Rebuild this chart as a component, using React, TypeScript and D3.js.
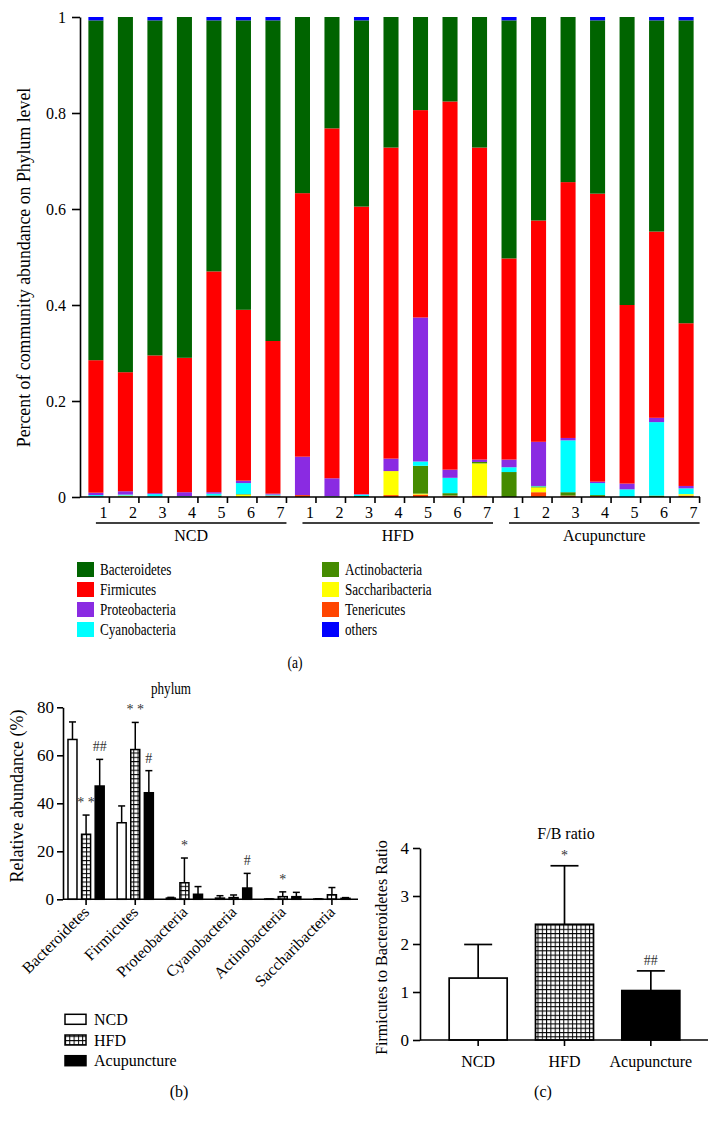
import React, { useEffect, useRef } from "react";
import * as d3 from "d3";

const FONT = "'Liberation Serif', 'Times New Roman', serif";

// ---- panel (a): phylum composition per sample ----
const groups = ["NCD", "HFD", "Acupuncture"];
const sampleLabels = ["1", "2", "3", "4", "5", "6", "7"];
const phyla = ["Bacteroidetes", "Firmicutes", "Proteobacteria", "Cyanobacteria", "Actinobacteria", "Saccharibacteria", "Tenericutes", "others"];
const phylaColors = ["#006400", "#ff0000", "#8a2be2", "#00ffff", "#458b00", "#ffff00", "#ff4500", "#0000ff"];
const stackOrder = ["Tenericutes", "Saccharibacteria", "Actinobacteria", "Cyanobacteria", "Proteobacteria", "Firmicutes", "Bacteroidetes", "others"];

const bacteroidetes = [0.708, 0.74, 0.698, 0.71, 0.523, 0.603, 0.668, 0.367, 0.232, 0.388, 0.272, 0.194, 0.176, 0.272, 0.496, 0.424, 0.344, 0.361, 0.6, 0.44, 0.631];
const firmicutes = [0.276, 0.248, 0.287, 0.28, 0.46, 0.356, 0.318, 0.549, 0.729, 0.599, 0.648, 0.432, 0.767, 0.65, 0.419, 0.461, 0.533, 0.6, 0.372, 0.388, 0.339];
const proteobacteria = [0.005, 0.007, 0.002, 0.008, 0.003, 0.005, 0.002, 0.08, 0.037, 0.001, 0.026, 0.3, 0.017, 0.005, 0.016, 0.092, 0.005, 0.003, 0.012, 0.009, 0.005];
const cyanobacteria = [0.003, 0.002, 0.005, 0.001, 0.004, 0.023, 0.002, 0, 0.001, 0.003, 0, 0.009, 0.032, 0, 0.01, 0.001, 0.108, 0.025, 0.016, 0.153, 0.012];
const actinobacteria = [0.001, 0, 0.001, 0.001, 0.003, 0.001, 0, 0, 0, 0.002, 0, 0.058, 0.005, 0.003, 0.052, 0.002, 0.007, 0.002, 0, 0.003, 0];
const saccharibacteria = [0, 0.003, 0, 0, 0, 0.005, 0, 0, 0, 0, 0.05, 0.002, 0, 0.067, 0, 0.01, 0, 0, 0, 0, 0.003];
const tenericutes = [0, 0, 0, 0, 0, 0, 0.003, 0.004, 0.001, 0, 0.004, 0.005, 0.003, 0.003, 0, 0.01, 0.003, 0.002, 0, 0, 0.003];
const others = [0.007, 0, 0.007, 0, 0.007, 0.007, 0.007, 0, 0, 0.007, 0, 0, 0, 0, 0.007, 0, 0, 0.007, 0, 0.007, 0.007];
const phylaValues = [bacteroidetes, firmicutes, proteobacteria, cyanobacteria, actinobacteria, saccharibacteria, tenericutes, others];

// ---- panel (b): relative abundance (%) ----
const bCategories = ["Bacteroidetes", "Firmicutes", "Proteobacteria", "Cyanobacteria", "Actinobacteria", "Saccharibacteria"];
const ncdMean = [66.6, 31.9, 0.5, 0.5, 0.1, 0.1];
const ncdSd = [7.3, 7.0, 0.3, 1.0, 0, 0.1];
const hfdMean = [27.1, 62.4, 6.9, 0.7, 1.1, 1.9];
const hfdSd = [8.0, 11.3, 10.3, 1.1, 2.0, 3.0];
const acuMean = [47.2, 44.4, 2.1, 4.7, 1.1, 0.4];
const acuSd = [11.1, 9.2, 3.2, 6.1, 1.8, 0.3];
const bMarks = [
    { cat: 0, grp: 1, text: "* *" }, { cat: 0, grp: 2, text: "##" },
    { cat: 1, grp: 1, text: "* *" }, { cat: 1, grp: 2, text: "#" },
    { cat: 2, grp: 1, text: "*" }, { cat: 3, grp: 2, text: "#" }, { cat: 4, grp: 1, text: "*" },
];

// ---- panel (c): F/B ratio ----
const fbMean = [1.29, 2.41, 1.03];
const fbSd = [0.70, 1.22, 0.41];
const fbMarks = ["", "*", "##"];

const fills = ["white", "url(#grid)", "black"];

export default function App() {
    const ref = useRef<SVGSVGElement>(null);

    useEffect(() => {
        const svg = d3.select(ref.current);
        svg.selectAll("*").remove();
        svg.style("font-family", FONT);

        const pat = svg.append("defs").append("pattern").attr("id", "grid")
            .attr("patternUnits", "userSpaceOnUse").attr("width", 4.3).attr("height", 4.3);
        pat.append("rect").attr("width", 4.3).attr("height", 4.3).attr("fill", "white");
        pat.append("path").attr("d", "M0,0.5H4.3M0.5,0V4.3").attr("stroke", "black").attr("stroke-width", 1);

        const styleAxis = (g: any, size = 16) => {
            g.selectAll("path,line").attr("stroke", "black").attr("stroke-width", 1.6);
            g.selectAll("text").attr("font-family", FONT).attr("font-size", size).attr("fill", "black");
        };

        // ===== (a) =====
        const rows = d3.range(21).map(i => {
            const r: any = { idx: i };
            phyla.forEach((p, k) => r[p] = phylaValues[k][i]);
            return r;
        });
        const color = d3.scaleOrdinal<string, string>().domain(phyla).range(phylaColors);
        const xa = d3.scaleBand<number>().domain(d3.range(21)).range([81, 701]).paddingInner(0.49).paddingOuter(0.25);
        const ya = d3.scaleLinear().domain([0, 1]).range([497, 17]);
        const cx = (i: number) => (xa(i) as number) + xa.bandwidth() / 2;

        const stacked = d3.stack<any>().keys(stackOrder)(rows);
        svg.append("g").selectAll("g").data(stacked).join("g")
            .attr("fill", d => color(d.key))
            .selectAll("rect").data(d => d).join("rect")
            .attr("x", (d: any) => xa(d.data.idx) as number)
            .attr("y", d => ya(d[1]))
            .attr("width", xa.bandwidth())
            .attr("height", d => ya(d[0]) - ya(d[1]));

        const yAxisA = svg.append("g").attr("transform", "translate(80,0)")
            .call(d3.axisLeft(ya).tickValues([0, 0.2, 0.4, 0.6, 0.8, 1]).tickSize(8).tickPadding(6).tickSizeOuter(0)
                .tickFormat(d => String(+(+d).toFixed(1))));
        styleAxis(yAxisA);

        svg.append("line").attr("x1", 80).attr("x2", 700).attr("y1", 497).attr("y2", 497)
            .attr("stroke", "black").attr("stroke-width", 1.6);
        svg.append("g").selectAll("line").data(d3.range(21)).join("line")
            .attr("x1", i => cx(i) + 13.5).attr("x2", i => cx(i) + 13.5)
            .attr("y1", 497).attr("y2", 503).attr("stroke", "black").attr("stroke-width", 1.6);
        svg.append("g").selectAll("text").data(d3.range(21)).join("text")
            .attr("x", i => cx(i) + 7.5).attr("y", 518).attr("text-anchor", "middle")
            .attr("font-size", 16).text(i => sampleLabels[i % 7]);

        groups.forEach((g, k) => {
            const x1 = cx(k * 7), x2 = cx(k * 7 + 6) + 13.5;
            svg.append("line").attr("x1", x1).attr("x2", x2).attr("y1", 523).attr("y2", 523)
                .attr("stroke", "black").attr("stroke-width", 1.6);
            svg.append("text").attr("x", (x1 + x2) / 2).attr("y", 541).attr("text-anchor", "middle")
                .attr("font-size", 16).text(g);
        });

        svg.append("text").attr("transform", "translate(30,267.5) rotate(-90)").attr("text-anchor", "middle")
            .attr("font-size", 17.8).text("Percent of community abundance on Phylum level");

        // legend (a) - text is set slightly condensed like the source figure
        const lg = svg.append("g").selectAll("g").data(phyla).join("g")
            .attr("transform", (d, i) => `translate(${i < 4 ? 77 : 322},${569.5 + (i % 4) * 20})`);
        lg.append("rect").attr("x", 0).attr("y", -7.5).attr("width", 17).attr("height", 15).attr("fill", d => color(d));
        lg.append("text").attr("transform", "translate(23,5.5) scale(0.82,1)").attr("font-size", 16).text(d => d);

        svg.append("text").attr("transform", "translate(295,668) scale(0.85,1)").attr("text-anchor", "middle")
            .attr("font-size", 16).text("(a)");

        // ===== (b) =====
        svg.append("text").attr("transform", "translate(171,694) scale(0.82,1)").attr("text-anchor", "middle")
            .attr("font-size", 16).text("phylum");
        const xb = d3.scaleBand<string>().domain(bCategories).range([61.5, 356.5]);
        const yb = d3.scaleLinear().domain([0, 80]).range([899.3, 707.3]);
        const off = d3.scaleOrdinal<number, number>().domain([0, 1, 2]).range([-13.6, 0, 13.6]);
        const bcx = (c: number) => (xb(bCategories[c]) as number) + xb.bandwidth() / 2;
        const means = [ncdMean, hfdMean, acuMean];
        const sds = [ncdSd, hfdSd, acuSd];
        const bData = d3.range(6).flatMap(c => [0, 1, 2].map(g => ({ c, g, m: means[g][c], s: sds[g][c] })));

        const eb = svg.append("g").selectAll("g").data(bData).join("g");
        eb.append("line").attr("x1", d => bcx(d.c) + off(d.g)).attr("x2", d => bcx(d.c) + off(d.g))
            .attr("y1", d => yb(d.m)).attr("y2", d => yb(d.m + d.s)).attr("stroke", "black").attr("stroke-width", 1.5);
        eb.append("line").attr("x1", d => bcx(d.c) + off(d.g) - 3.5).attr("x2", d => bcx(d.c) + off(d.g) + 3.5)
            .attr("y1", d => yb(d.m + d.s)).attr("y2", d => yb(d.m + d.s)).attr("stroke", "black").attr("stroke-width", 1.5);
        eb.append("rect").attr("x", d => bcx(d.c) + off(d.g) - 4.5).attr("width", 9)
            .attr("y", d => yb(d.m)).attr("height", d => yb(0) - yb(d.m))
            .attr("fill", d => fills[d.g]).attr("stroke", "black").attr("stroke-width", 1.5);

        const yAxisB = svg.append("g").attr("transform", "translate(63,0)")
            .call(d3.axisLeft(yb).tickValues([0, 20, 40, 60, 80]).tickSize(6).tickPadding(3).tickSizeOuter(0)
                .tickFormat(d3.format("d")));
        styleAxis(yAxisB, 17);
        svg.append("line").attr("x1", 63).attr("x2", 358).attr("y1", 899.3).attr("y2", 899.3)
            .attr("stroke", "black").attr("stroke-width", 1.6);
        svg.append("g").selectAll("line").data(d3.range(6)).join("line")
            .attr("x1", c => bcx(c)).attr("x2", c => bcx(c)).attr("y1", 899.3).attr("y2", 905)
            .attr("stroke", "black").attr("stroke-width", 1.6);
        svg.append("g").selectAll("text").data(bCategories).join("text")
            .attr("transform", (d, c) => `translate(${bcx(c) + 4},${913}) rotate(-45)`)
            .attr("text-anchor", "end").attr("font-size", 16).text(d => d);

        svg.append("g").selectAll("text").data(bMarks).join("text")
            .attr("x", d => bcx(d.cat) + off(d.grp))
            .attr("y", d => yb(means[d.grp][d.cat] + sds[d.grp][d.cat]) - 8)
            .attr("text-anchor", "middle").attr("font-size", 14).attr("fill", "#333").text(d => d.text);

        svg.append("text").attr("transform", "translate(22.5,796) rotate(-90)").attr("text-anchor", "middle")
            .attr("font-size", 18).text("Relative abundance (%)");

        const lb = svg.append("g").selectAll("g").data(groups).join("g")
            .attr("transform", (d, i) => `translate(65,${1019.3 + i * 20.7})`);
        lb.append("rect").attr("x", 0).attr("y", -5).attr("width", 21).attr("height", 10)
            .attr("fill", (d, i) => fills[i]).attr("stroke", "black").attr("stroke-width", 1.5);
        lb.append("text").attr("x", 29).attr("y", 5.5).attr("font-size", 16).text(d => d);
        svg.append("text").attr("x", 179).attr("y", 1097).attr("text-anchor", "middle").attr("font-size", 16).text("(b)");

        // ===== (c) =====
        const xc = d3.scaleBand<string>().domain(groups).range([435, 694]);
        const yc = d3.scaleLinear().domain([0, 4]).range([1040, 848]);
        const ccx = (i: number) => (xc(groups[i]) as number) + xc.bandwidth() / 2;
        const cData = groups.map((g, i) => ({ g, i, m: fbMean[i], s: fbSd[i] }));

        const cb = svg.append("g").selectAll("g").data(cData).join("g");
        cb.append("line").attr("x1", d => ccx(d.i)).attr("x2", d => ccx(d.i))
            .attr("y1", d => yc(d.m)).attr("y2", d => yc(d.m + d.s)).attr("stroke", "black").attr("stroke-width", 1.7);
        cb.append("line").attr("x1", d => ccx(d.i) - 14).attr("x2", d => ccx(d.i) + 14)
            .attr("y1", d => yc(d.m + d.s)).attr("y2", d => yc(d.m + d.s)).attr("stroke", "black").attr("stroke-width", 1.7);
        cb.append("rect").attr("x", d => ccx(d.i) - 29).attr("width", 58)
            .attr("y", d => yc(d.m)).attr("height", d => yc(0) - yc(d.m))
            .attr("fill", d => fills[d.i]).attr("stroke", "black").attr("stroke-width", 1.7);
        cb.append("text").attr("x", d => ccx(d.i)).attr("y", d => yc(d.m + d.s) - 6)
            .attr("text-anchor", "middle").attr("font-size", 14).attr("fill", "#333").text(d => fbMarks[d.i]);

        const yAxisC = svg.append("g").attr("transform", "translate(420,0)")
            .call(d3.axisLeft(yc).tickValues([0, 1, 2, 3, 4]).tickSize(7).tickPadding(4).tickSizeOuter(0)
                .tickFormat(d3.format("d")));
        styleAxis(yAxisC, 17);
        svg.append("line").attr("x1", 420).attr("x2", 708).attr("y1", 1040).attr("y2", 1040)
            .attr("stroke", "black").attr("stroke-width", 1.6);
        svg.append("g").selectAll("line").data(d3.range(3)).join("line")
            .attr("x1", i => ccx(i)).attr("x2", i => ccx(i)).attr("y1", 1040).attr("y2", 1046)
            .attr("stroke", "black").attr("stroke-width", 1.6);
        svg.append("g").selectAll("text").data(groups).join("text")
            .attr("x", (d, i) => ccx(i)).attr("y", 1067).attr("text-anchor", "middle").attr("font-size", 16).text(d => d);

        svg.append("text").attr("x", 566).attr("y", 839).attr("text-anchor", "middle").attr("font-size", 16).text("F/B ratio");
        svg.append("text").attr("transform", "translate(387,947.5) rotate(-90)").attr("text-anchor", "middle")
            .attr("font-size", 16).text("Firmicutes to Bacteroidetes Ratio");
        svg.append("text").attr("x", 543).attr("y", 1097).attr("text-anchor", "middle").attr("font-size", 16).text("(c)");
    }, []);

    return (
        <svg ref={ref} width={720} height={1125}
            style={{ position: "absolute", left: 0, top: 0, background: "white" }} />
    );
}
